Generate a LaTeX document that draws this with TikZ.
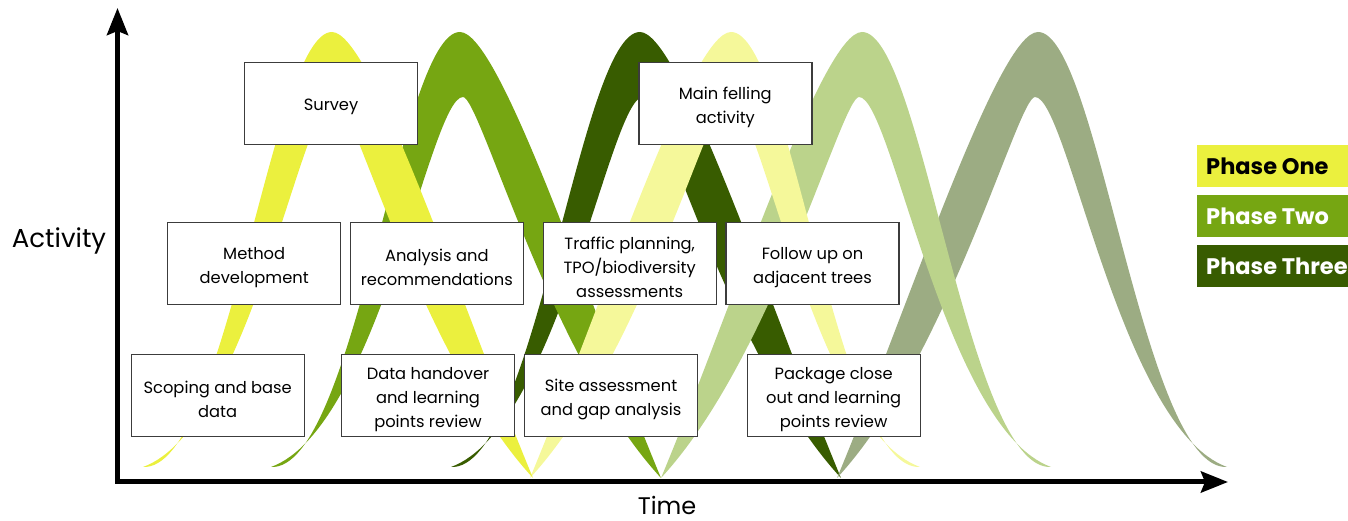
\documentclass[tikz,border=0pt]{standalone}
\usepackage{fontspec}
\setmainfont{Poppins}
\usetikzlibrary{arrows.meta}
\definecolor{cA}{RGB}{235,240,62}
\definecolor{cB}{RGB}{118,166,18}
\definecolor{cC}{RGB}{56,92,0}
\definecolor{cD}{RGB}{245,248,154}
\definecolor{cE}{RGB}{187,211,139}
\definecolor{cF}{RGB}{156,172,131}
\definecolor{boxline}{RGB}{60,60,60}
\tikzset{
  actbox/.style={draw=boxline, line width=1.4pt, fill=white, minimum width=173pt,
    minimum height=82pt, inner sep=0pt},
  acttext/.style={align=center, inner sep=0pt,
    font=\fontsize{16.3}{24}\selectfont},
  legbox/.style={minimum width=160pt, minimum height=41.7pt, anchor=west, inner sep=0pt},
  legtext/.style={anchor=west, inner sep=0pt, font=\fontsize{22.5}{26}\selectfont\bfseries},
  axisline/.style={line width=5pt, line join=miter,
    {Stealth[length=27pt,width=21pt,inset=4pt]}-{Stealth[length=27pt,width=21pt,inset=4pt]}}
}
\newcommand\hump[3]{%
  \begin{scope}[shift={(#1,43)},xscale=#2]
    \fill[#3] (-201,0) .. controls (-130,170) and (-40,446) .. (0,446)
      .. controls (60,446) and (105,7) .. (189,11)
      .. controls (82,50) and (30,381) .. (-3,381)
      .. controls (-20,381) and (-90,120) .. (-201,0) -- cycle;
  \end{scope}}
\newcommand\actnode[3]{%
  \node[actbox] (#1) at (#2) {};
  \node[acttext] (#1-text) at ([yshift=-4pt]#1.center) {#3};}
\begin{document}
\begin{tikzpicture}[x=1pt,y=1pt]
\useasboundingbox (0,0) rectangle (1348,521);
% humps, bottom to top
\hump{640}{-1}{cC}
\hump{460}{-1}{cB}
\hump{1038}{1}{cF}
\hump{862}{1}{cE}
\hump{731}{1}{cD}
\hump{332}{-1}{cA}
% axes
\coordinate (ytop) at (117.5,513);
\coordinate (origin) at (117.5,39);
\coordinate (xend) at (1228,39);
\draw[axisline] (ytop) -- (origin) -- (xend);
\node (ylab) at (59,280) {\fontsize{26}{30}\selectfont Activity};
\node[anchor=base, inner sep=0pt] (xlab) at (667,6.5) {\fontsize{24}{28}\selectfont Time};
% boxes
\actnode{survey}{331,417.7}{Survey}
\actnode{method}{254.2,257.5}{Method\\development}
\actnode{analysis}{436.8,257.5}{Analysis and\\recommendations}
\actnode{scoping}{217.7,125.2}{Scoping and base\\data}
\actnode{handover}{428,125.2}{Data handover\\and learning\\points review}
\actnode{felling}{725.3,417.7}{Main felling\\activity}
\actnode{traffic}{629.7,257.5}{Traffic planning,\\TPO/biodiversity\\assessments}
\actnode{follow}{812.5,257.5}{Follow up on\\adjacent trees}
\actnode{site}{611,125.2}{Site assessment\\and gap analysis}
\actnode{package}{833.7,125.2}{Package close\\out and learning\\points review}
% legend
\node[legbox, fill=cA] (l1) at (1196.7,355.2) {};
\node[legbox, fill=cB] (l2) at (1196.7,305.2) {};
\node[legbox, fill=cC] (l3) at (1196.7,255.2) {};
\node[legtext, text=black] (t1) at (1206,355.2) {Phase One};
\node[legtext, text=white] (t2) at (1206,305.2) {Phase Two};
\node[legtext, text=white] (t3) at (1206,255.2) {Phase Three};
\end{tikzpicture}
\end{document}
